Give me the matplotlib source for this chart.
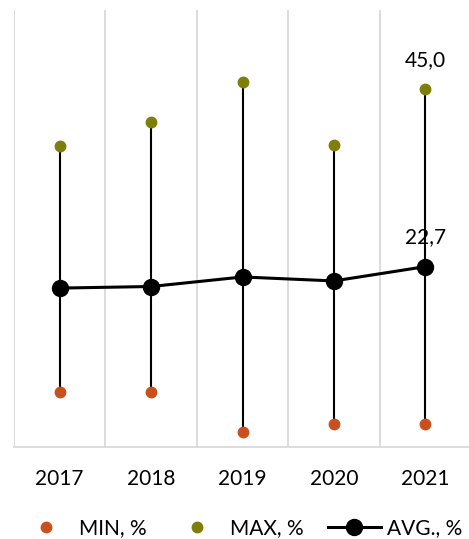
import numpy as np
from matplotlib import pyplot as plt

plt.rcParams['font.family'] = ['Lato', 'DejaVu Sans']

years = ['2017', '2018', '2019', '2020', '2021']
min_vals = [6.9, 6.9, 1.9, 2.9, 2.9]
max_vals = [37.9, 40.9, 46.0, 38.0, 45.0]
avg_vals = [20.0, 20.2, 21.4, 20.9, 22.7]

fig = plt.figure(figsize=(4.69, 5.39), dpi=100)
ax = fig.add_axes([14 / 469, 92 / 539, 457 / 469, 437 / 539])

x = np.arange(len(years))

# high-low lines
ax.vlines(x, min_vals, max_vals, color='black', lw=1.5, zorder=2)
ax.plot(x, min_vals, 'o', ls='none', color='#C9501C', ms=7.5, label='MIN, %', zorder=3)
ax.plot(x, max_vals, 'o', ls='none', color='#7E7E0A', ms=7.5, label='MAX, %', zorder=3)
ax.plot(x, avg_vals, '-o', color='black', lw=2.2, ms=11.5, label='AVG., %', zorder=4)

ax.annotate('45,0', (x[-1], max_vals[-1]), xytext=(0, 14), textcoords='offset points',
            ha='center', va='bottom', fontsize=15)
ax.annotate('22,7', (x[-1], avg_vals[-1]), xytext=(0, 14), textcoords='offset points',
            ha='center', va='bottom', fontsize=15)

ax.set_xlim(-0.5, len(years) - 0.5)
ax.set_ylim(0, 55)
ax.set_xticks(x)
ax.set_xticklabels(years, fontsize=15)
ax.set_xticks(np.arange(-0.5, len(years)), minor=True)
ax.tick_params(axis='x', which='both', length=0, pad=16)
ax.set_yticks([])
ax.grid(axis='x', which='minor', color='#D9D9D9', lw=1.3)
for s in ['top', 'right', 'left']:
    ax.spines[s].set_visible(False)
ax.spines['bottom'].set_color('#D9D9D9')
ax.spines['bottom'].set_linewidth(1.3)

fig.legend(loc='center', bbox_to_anchor=(0.514, 0.02), ncol=3, frameon=False,
           fontsize=15, handlelength=2.55, columnspacing=1.15, handletextpad=0.3)

fig.savefig('out.png', dpi=100)
